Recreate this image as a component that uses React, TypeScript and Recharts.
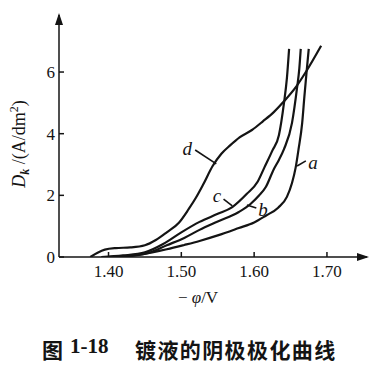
import { LineChart, Line, XAxis, YAxis, ReferenceLine, ReferenceDot } from "recharts";

// cathodic polarization curves, [-φ (V), Dk (A/dm²)]
const curveA = [
  [1.4, 0], [1.43, 0.03], [1.46, 0.15], [1.48, 0.25], [1.504, 0.39], [1.525, 0.52],
  [1.55, 0.7], [1.579, 0.94], [1.6, 1.12], [1.616, 1.34], [1.633, 1.6], [1.645, 1.95],
  [1.652, 2.4], [1.657, 2.9], [1.661, 3.5], [1.666, 4.35], [1.669, 5.2], [1.672, 6.0], [1.675, 6.75],
];
const curveB = [
  [1.4, 0], [1.43, 0.05], [1.455, 0.13], [1.48, 0.38], [1.504, 0.62], [1.525, 0.88],
  [1.55, 1.15], [1.579, 1.46], [1.595, 1.72], [1.607, 2.0], [1.616, 2.27], [1.627, 2.85],
  [1.634, 3.15], [1.641, 3.5], [1.652, 4.35], [1.659, 5.5], [1.662, 6.1], [1.664, 6.75],
];
const curveC = [
  [1.39, 0], [1.42, 0.05], [1.45, 0.15], [1.475, 0.42], [1.5, 0.8], [1.525, 1.14],
  [1.55, 1.4], [1.57, 1.62], [1.59, 2.05], [1.605, 2.45], [1.614, 2.9], [1.625, 3.45],
  [1.634, 3.95], [1.641, 5.0], [1.645, 5.8], [1.648, 6.75],
];
const curveD = [
  [1.375, 0], [1.385, 0.14], [1.395, 0.24], [1.41, 0.29], [1.43, 0.31], [1.45, 0.38],
  [1.465, 0.55], [1.48, 0.8], [1.497, 1.12], [1.51, 1.55], [1.52, 1.92], [1.53, 2.35],
  [1.543, 2.95], [1.555, 3.35], [1.567, 3.62], [1.58, 3.88], [1.597, 4.12], [1.612, 4.4],
  [1.627, 4.7], [1.641, 5.05], [1.657, 5.5], [1.671, 6.0], [1.692, 6.85],
];

const xTicks = [1.4, 1.5, 1.6, 1.7];
const yTicks = [0, 2, 4, 6];
const xDomain = [1.332, 1.755];
const yDomain = [0, 7.85];

// curve letters and their leader lines
const labelNames = ["a", "b", "c", "d"];
const labelPos = [[1.681, 3.08], [1.612, 1.56], [1.549, 2.01], [1.508, 3.54]];
const leaders = [
  [[1.659, 2.95], [1.671, 3.12]],
  [[1.59, 1.69], [1.603, 1.59]],
  [[1.558, 1.88], [1.57, 1.66]],
  [[1.519, 3.47], [1.548, 3.02]],
];

const toPts = (c: number[][]) => c.map(([x, y]) => ({ x, y }));
const series = [curveA, curveB, curveC, curveD].map(toPts);

const ink = "#141414";
const serif = "'Liberation Serif', 'DejaVu Serif', serif";

function XTick(p: any) {
  return (
    <text x={p.x} y={p.y} dy="0.71em" textAnchor="middle" style={{ fontFamily: serif, fontSize: 17, fill: ink }}>
      {Number(p.payload.value).toFixed(2)}
    </text>
  );
}

function YTick(p: any) {
  return (
    <text x={p.x} y={p.y} dy="0.35em" textAnchor="end" style={{ fontFamily: serif, fontSize: 17, fill: ink }}>
      {p.payload.value}
    </text>
  );
}

export default function App() {
  return (
    <div style={{ position: "absolute", left: 0, top: 0, width: 386, height: 377, background: "#fff", fontFamily: serif, color: ink }}>
      <LineChart width={386} height={377} margin={{ top: 15, right: 19, left: 58, bottom: 119 }}>
        <XAxis
          type="number"
          dataKey="x"
          domain={xDomain}
          ticks={xTicks}
          height={1}
          allowDataOverflow
          tickSize={-5}
          tickMargin={13}
          stroke={ink}
          strokeWidth={1.5}
          tick={<XTick />}
        />
        <YAxis
          type="number"
          dataKey="y"
          domain={yDomain}
          ticks={yTicks}
          width={1}
          allowDataOverflow
          tickSize={-5}
          tickMargin={9}
          stroke={ink}
          strokeWidth={1.5}
          tick={<YTick />}
        />
        {series.map((d, i) => (
          <Line
            key={labelNames[i]}
            data={d}
            dataKey="y"
            type="monotone"
            stroke={ink}
            strokeWidth={2.2}
            dot={false}
            isAnimationActive={false}
          />
        ))}
        {leaders.map((seg, i) => (
          <ReferenceLine
            key={"l" + i}
            segment={seg.map(([x, y]) => ({ x, y }))}
            stroke={ink}
            strokeWidth={1.6}
            ifOverflow="visible"
          />
        ))}
        {labelNames.map((n, i) => (
          <ReferenceDot
            key={"t" + n}
            x={labelPos[i][0]}
            y={labelPos[i][1]}
            ifOverflow="visible"
            shape={(p: any) => (
              <text x={p.cx} y={p.cy} dy="0.35em" textAnchor="middle" style={{ fontFamily: serif, fontStyle: "italic", fontSize: 19, fill: ink }}>
                {n}
              </text>
            )}
          />
        ))}
        <ReferenceDot
          x={xDomain[1]}
          y={0}
          ifOverflow="visible"
          shape={(p: any) => <path d={`M${p.cx + 2},${p.cy} l-12,-4 l0,8 z`} fill={ink} />}
        />
        <ReferenceDot
          x={xDomain[0]}
          y={yDomain[1]}
          ifOverflow="visible"
          shape={(p: any) => <path d={`M${p.cx},${p.cy - 2} l-4,12 l8,0 z`} fill={ink} />}
        />
      </LineChart>

      <div style={{ position: "absolute", left: 20, top: 144, transform: "translate(-50%,-50%) rotate(-90deg)", whiteSpace: "nowrap", fontSize: 18 }}>
        <i>D</i>
        <sub style={{ fontSize: 12, fontStyle: "italic", fontWeight: 700 }}>k</sub>
        {" /(A/dm"}
        <sup style={{ fontSize: 12 }}>2</sup>
        {")"}
      </div>
      <div style={{ position: "absolute", left: 198, top: 298, transform: "translate(-50%,-50%)", whiteSpace: "nowrap", fontSize: 17 }}>
        {"− "}
        <i>φ</i>
        {"/V"}
      </div>
      <div style={{ position: "absolute", left: 42, top: 334, whiteSpace: "nowrap", fontSize: 21, fontWeight: 700, fontFamily: "'Noto Sans CJK SC', sans-serif" }}>
        图
      </div>
      <div style={{ position: "absolute", left: 70, top: 334, whiteSpace: "nowrap", fontSize: 21, fontWeight: 700, fontFamily: serif }}>
        1-18
      </div>
      <div style={{ position: "absolute", left: 135, top: 334, whiteSpace: "nowrap", fontSize: 21, fontWeight: 700, letterSpacing: 1.4, fontFamily: "'Noto Sans CJK SC', sans-serif" }}>
        镀液的阴极极化曲线
      </div>
    </div>
  );
}
